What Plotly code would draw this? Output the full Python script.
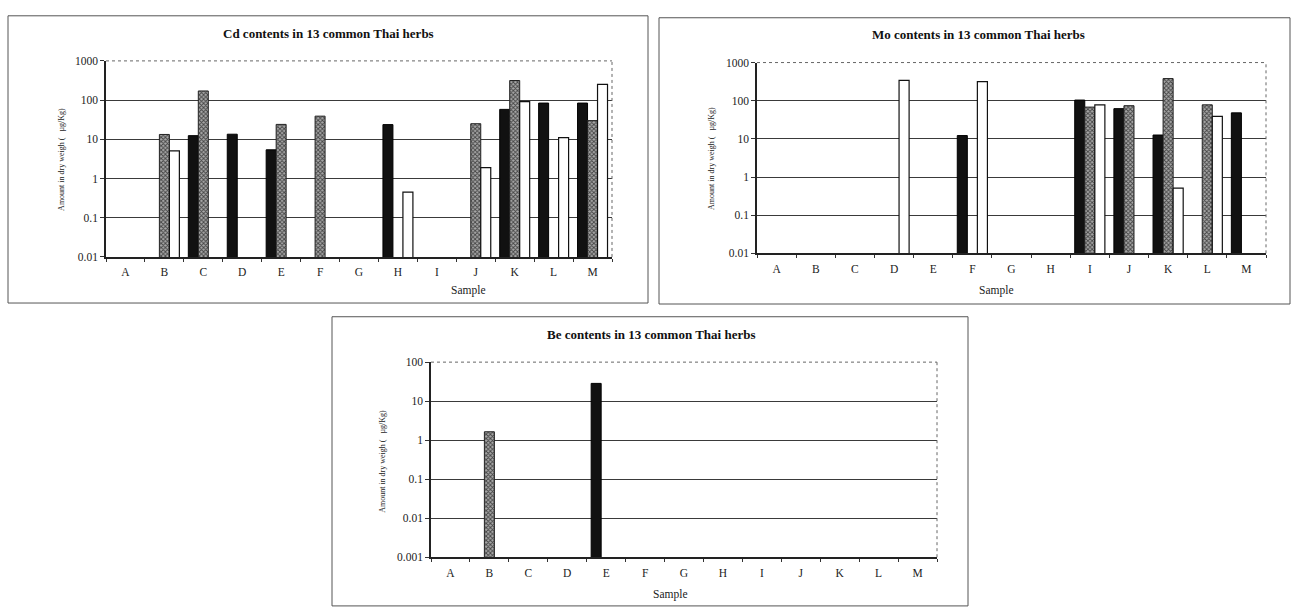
import plotly.graph_objects as go

W, H = 1291, 608

samples = list("ABCDEFGHIJKLM")

cd_black = [None, None, 12.4, 13.5, 5.4, None, None, 23.7, None, None, 58, 84, 84]
cd_gray = [None, 13.3, 171, None, 24, 39, None, None, None, 25, 316, None, 30]
cd_white = [None, 5.1, None, None, None, None, None, 0.45, None, 1.9, 91, 11, 251]

mo_black = [None, None, None, None, None, 12.2, None, None, 104, 62, 12.6, None, 48]
mo_gray = [None, None, None, None, None, None, None, None, 68, 74, 380, 78, None]
mo_white = [None, None, None, 340, None, 316, None, None, 78, None, 0.51, 39, None]

be_black = [None, None, None, None, 28.5, None, None, None, None, None, None, None, None]
be_gray = [None, 1.64, None, None, None, None, None, None, None, None, None, None, None]
be_white = [None] * 13

cd_ticks = [0.01, 0.1, 1, 10, 100, 1000]
cd_ticktext = ["0.01", "0.1", "1", "10", "100", "1000"]
be_ticks = [0.001, 0.01, 0.1, 1, 10, 100]
be_ticktext = ["0.001", "0.01", "0.1", "1", "10", "100"]

titles = ["Cd contents in 13 common Thai herbs",
          "Mo contents in 13 common Thai herbs",
          "Be contents in 13 common Thai herbs"]
ytitle = "Amount in dry weigh (   µg/Kg)"
xtitle = "Sample"

FONT = "Liberation Serif, Times New Roman, serif"


def px(x):
    return x / W


def py(y):
    return 1 - y / H


fig = go.Figure()


def add_bars(xa, ya, black, gray, white):
    fig.add_trace(go.Bar(x=samples, y=black, xaxis=xa, yaxis=ya,
                         marker=dict(color="#111111", line=dict(color="#000000", width=1))))
    fig.add_trace(go.Bar(x=samples, y=gray, xaxis=xa, yaxis=ya,
                         marker=dict(color="#9a9a9a", line=dict(color="#222222", width=1),
                                     pattern=dict(shape="x", size=3, solidity=0.5,
                                                  fgcolor="#444444", bgcolor="#a8a8a8",
                                                  fillmode="replace"))))
    fig.add_trace(go.Bar(x=samples, y=white, xaxis=xa, yaxis=ya,
                         marker=dict(color="#ffffff", line=dict(color="#111111", width=1.2))))


add_bars("x", "y", cd_black, cd_gray, cd_white)
add_bars("x2", "y2", mo_black, mo_gray, mo_white)
add_bars("x3", "y3", be_black, be_gray, be_white)

xcommon = dict(type="category", showline=True, linecolor="#222222", linewidth=1.5,
               ticks="outside", ticklen=3, tickcolor="#333333", tickson="boundaries",
               showgrid=False, tickfont=dict(family=FONT, size=11.5, color="#222222"),
               ticklabelstandoff=4, fixedrange=True)
ycommon = dict(type="log", showline=True, linecolor="#222222", linewidth=1.5,
               ticks="outside", ticklen=4, tickcolor="#333333",
               showgrid=True, gridcolor="#3a3a3a", gridwidth=1.2,
               tickfont=dict(family=FONT, size=11.5, color="#222222"),
               tickmode="array", fixedrange=True)

# domains measured in pixels
cd_x = [px(106), px(612)]
cd_y = [py(256), py(56)]
mo_x = [px(757), px(1266)]
mo_y = [py(252.3), py(57.7)]
be_x = [px(431), px(937)]
be_y = [py(562.3), py(363.3)]

fig.update_layout(
    width=W, height=H, margin=dict(l=0, r=0, t=0, b=0),
    paper_bgcolor="white", plot_bgcolor="white",
    showlegend=False, barmode="group", bargap=0.23, bargroupgap=0,
    xaxis=dict(domain=cd_x, anchor="y", **xcommon),
    yaxis=dict(domain=cd_y, anchor="x", range=[-2, 3], tickvals=cd_ticks, ticktext=cd_ticktext, **ycommon),
    xaxis2=dict(domain=mo_x, anchor="y2", **xcommon),
    yaxis2=dict(domain=mo_y, anchor="x2", range=[-2, 3], tickvals=cd_ticks, ticktext=cd_ticktext, **ycommon),
    xaxis3=dict(domain=be_x, anchor="y3", **xcommon),
    yaxis3=dict(domain=be_y, anchor="x3", range=[-3, 2], tickvals=be_ticks, ticktext=be_ticktext, **ycommon),
)

shapes = []
# outer chart boxes
for (x0, y0, x1, y1) in [(8, 10, 648, 303), (659, 12, 1290, 304), (332, 317, 968, 612)]:
    shapes.append(dict(type="rect", xref="paper", yref="paper",
                       x0=px(x0), y0=py(y0), x1=px(x1), y1=py(y1),
                       line=dict(color="#555555", width=1), fillcolor="rgba(0,0,0,0)", layer="below"))
# dotted top/right plot borders
for xa, ya in [("x", "y"), ("x2", "y2"), ("x3", "y3")]:
    shapes.append(dict(type="line", xref=f"{xa} domain", yref=f"{ya} domain",
                       x0=0.003, y0=1, x1=1, y1=1, line=dict(color="white", width=2.5)))
    shapes.append(dict(type="line", xref=f"{xa} domain", yref=f"{ya} domain",
                       x0=0, y0=1, x1=1, y1=1, line=dict(color="#666666", width=1, dash="dot")))
    shapes.append(dict(type="line", xref=f"{xa} domain", yref=f"{ya} domain",
                       x0=1, y0=0, x1=1, y1=1, line=dict(color="#666666", width=1, dash="dot")))
fig.update_layout(shapes=shapes)

ann = []
for t, (x, y) in zip(titles, [(328, 28), (978, 29), (651, 335)]):
    ann.append(dict(text=f"<b>{t}</b>", x=px(x), y=py(y), xref="paper", yref="paper",
                    showarrow=False, xanchor="center", yanchor="middle",
                    font=dict(family=FONT, size=13, color="#111111")))
for (x, y) in [(468, 290), (996, 290), (670, 600)]:
    ann.append(dict(text=xtitle, x=px(x), y=py(y), xref="paper", yref="paper",
                    showarrow=False, xanchor="center", yanchor="middle",
                    font=dict(family=FONT, size=11.5, color="#222222")))
for (x, y) in [(62, 157), (712, 156), (383, 465)]:
    ann.append(dict(text=ytitle, x=px(x), y=py(y), xref="paper", yref="paper",
                    showarrow=False, xanchor="center", yanchor="middle", textangle=-90,
                    font=dict(family=FONT, size=8, color="#222222")))
fig.update_layout(annotations=ann)

fig.write_html("out.html")
